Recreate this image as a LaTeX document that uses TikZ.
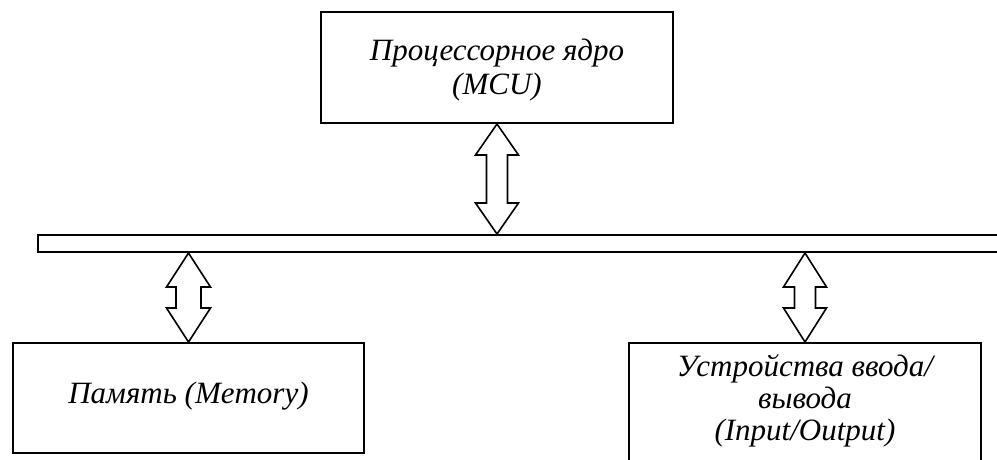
\documentclass[tikz,border=0pt]{standalone}
\usepackage{fontspec}
\setmainfont{Liberation Serif}
\usetikzlibrary{calc}
\tikzset{
  blk/.style={draw=black, line width=2pt, rectangle, inner sep=0pt},
  txt/.style={align=center, inner sep=0pt, font=\itshape\fontsize{31}{34}\selectfont},
  arr/.style={draw=black, line width=1.6pt, fill=white, line join=miter},
}
% #1 top anchor, #2 bottom anchor, #3 half head width, #4 half shaft width, #5 head length
\newcommand{\dblarr}[5]{%
  \draw[arr] let \p1=#1, \p2=#2 in
    (\x1,\y1) -- (\x1+#3pt,\y1-#5pt) -- (\x1+#4pt,\y1-#5pt) -- (\x1+#4pt,\y2+#5pt)
    -- (\x1+#3pt,\y2+#5pt) -- (\x1,\y2) -- (\x1-#3pt,\y2+#5pt) -- (\x1-#4pt,\y2+#5pt)
    -- (\x1-#4pt,\y1-#5pt) -- (\x1-#3pt,\y1-#5pt) -- cycle;}
\begin{document}
\begin{tikzpicture}[x=1pt,y=-1pt]
\useasboundingbox (0,0) rectangle (997,459);
\node[blk, minimum width=352pt, minimum height=111pt] (mcu) at (497,67.5) {};
\node[txt] (mcutext) at (497,70) {Процессорное ядро\\(MCU)};
\node[blk, minimum width=962pt, minimum height=17pt] (bus) at (519,243.5) {};
\node[blk, minimum width=351pt, minimum height=110pt] (mem) at (188.5,398) {};
\node[txt] (memtext) at (188.5,396) {Память (Memory)};
\node[blk, minimum width=352pt, minimum height=130pt] (io) at (805,408) {};
\node[txt, font=\itshape\fontsize{31}{32}\selectfont] (iotext) at (805,401) {Устройства ввода/\\вывода\\(Input/Output)};
\dblarr{(mcu.south)}{(bus.north)}{21.5}{10.5}{31}
\dblarr{($(bus.south -| mem.north)$)}{(mem.north)}{22}{12.5}{34}
\dblarr{($(bus.south -| io.north)$)}{(io.north)}{21.5}{10.5}{34}
\end{tikzpicture}
\end{document}
